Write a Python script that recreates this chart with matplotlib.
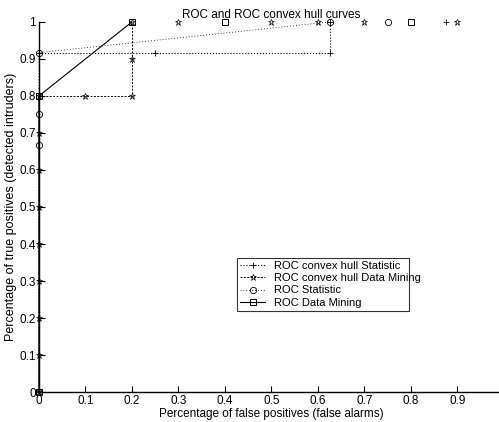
import matplotlib
matplotlib.use("Agg")
import matplotlib.pyplot as plt

plt.rcParams['font.family'] = ['Liberation Sans', 'DejaVu Sans']

# ROC convex hull Statistic
hull_stat_fpr = [0, 0, 0.25, 0.625, 0.625]
hull_stat_tpr = [0, 0.917, 0.917, 0.917, 1]
hull_stat_top_fpr = [0.875]
# ROC convex hull Data Mining
hull_dm_fpr = [0, 0, 0, 0, 0, 0, 0, 0, 0, 0.1, 0.2, 0.2, 0.2]
hull_dm_tpr = [0, 0.1, 0.2, 0.3, 0.4, 0.5, 0.6, 0.7, 0.8, 0.8, 0.8, 0.9, 1]
hull_dm_top_fpr = [0.3, 0.5, 0.6, 0.7, 0.9]
# ROC Statistic
roc_stat_fpr = [0, 0, 0, 0, 0.625]
roc_stat_tpr = [0, 0.667, 0.75, 0.917, 1]
roc_stat_top_fpr = [0.75]
# ROC Data Mining
roc_dm_fpr = [0, 0, 0.2]
roc_dm_tpr = [0, 0.8, 1]
roc_dm_top_fpr = [0.4, 0.8]

xticks = [0, 0.1, 0.2, 0.3, 0.4, 0.5, 0.6, 0.7, 0.8, 0.9]
yticks = [0, 0.1, 0.2, 0.3, 0.4, 0.5, 0.6, 0.7, 0.8, 0.9, 1]

fig = plt.figure(figsize=(4.99, 4.22), dpi=100)
ax = fig.add_axes([0.078, 0.071, 0.932, 0.877])

styles = [
    dict(linestyle=':', linewidth=0.8, marker='+', markersize=4, markeredgewidth=0.6),
    dict(linestyle=(0, (2, 1.5)), linewidth=0.7, marker='*', markersize=4.5,
         markeredgewidth=0.5, markerfacecolor='none'),
    dict(linestyle=(0, (1, 2.5)), linewidth=0.6, marker='o', markersize=4.5,
         markeredgewidth=0.6, markerfacecolor='none'),
    dict(linestyle='-', linewidth=0.8, marker='s', markersize=4, markeredgewidth=0.7,
         markerfacecolor='none'),
]
series = [
    (hull_stat_fpr, hull_stat_tpr, hull_stat_top_fpr, 'ROC convex hull Statistic'),
    (hull_dm_fpr, hull_dm_tpr, hull_dm_top_fpr, 'ROC convex hull Data Mining'),
    (roc_stat_fpr, roc_stat_tpr, roc_stat_top_fpr, 'ROC Statistic'),
    (roc_dm_fpr, roc_dm_tpr, roc_dm_top_fpr, 'ROC Data Mining'),
]
for (fx, ty, top, lab), st in zip(series, styles):
    ax.plot(fx, ty, color='black', label=lab, clip_on=False, **st)
    # points along tpr = 1 show only as markers
    ax.plot(top, [1] * len(top), color='black', clip_on=False,
            **{**st, 'linestyle': 'none'})

ax.set_xlim(0, 1)
ax.set_ylim(0, 1)
ax.set_xticks(xticks)
ax.set_xticklabels(['0' if v == 0 else f'{v:g}' for v in xticks])
ax.set_yticks(yticks)
ax.set_yticklabels(['0' if v == 0 else f'{v:g}' for v in yticks])
ax.tick_params(direction='in', length=4, width=0.8, labelsize=8.5, pad=2)
for s in ['top', 'right']:
    ax.spines[s].set_visible(False)
for s in ['left', 'bottom']:
    ax.spines[s].set_linewidth(1.0)

ax.set_title('ROC and ROC convex hull curves', fontsize=8.5, pad=3)
ax.set_xlabel('Percentage of false positives (false alarms)', fontsize=8.5, labelpad=1)
ax.set_ylabel('Percentage of true positives (detected intruders)', fontsize=9, labelpad=2)

leg = ax.legend(loc='lower left', bbox_to_anchor=(0.475, 0.263, 0.345, 0.102),
                bbox_transform=fig.transFigure, mode='expand', fontsize=8,
                frameon=True, fancybox=False, borderpad=0.3, labelspacing=0.2,
                handlelength=2.2, handletextpad=0.8, borderaxespad=0)
leg.get_frame().set_edgecolor('black')
leg.get_frame().set_linewidth(0.8)

fig.savefig('out.png', dpi=100)
